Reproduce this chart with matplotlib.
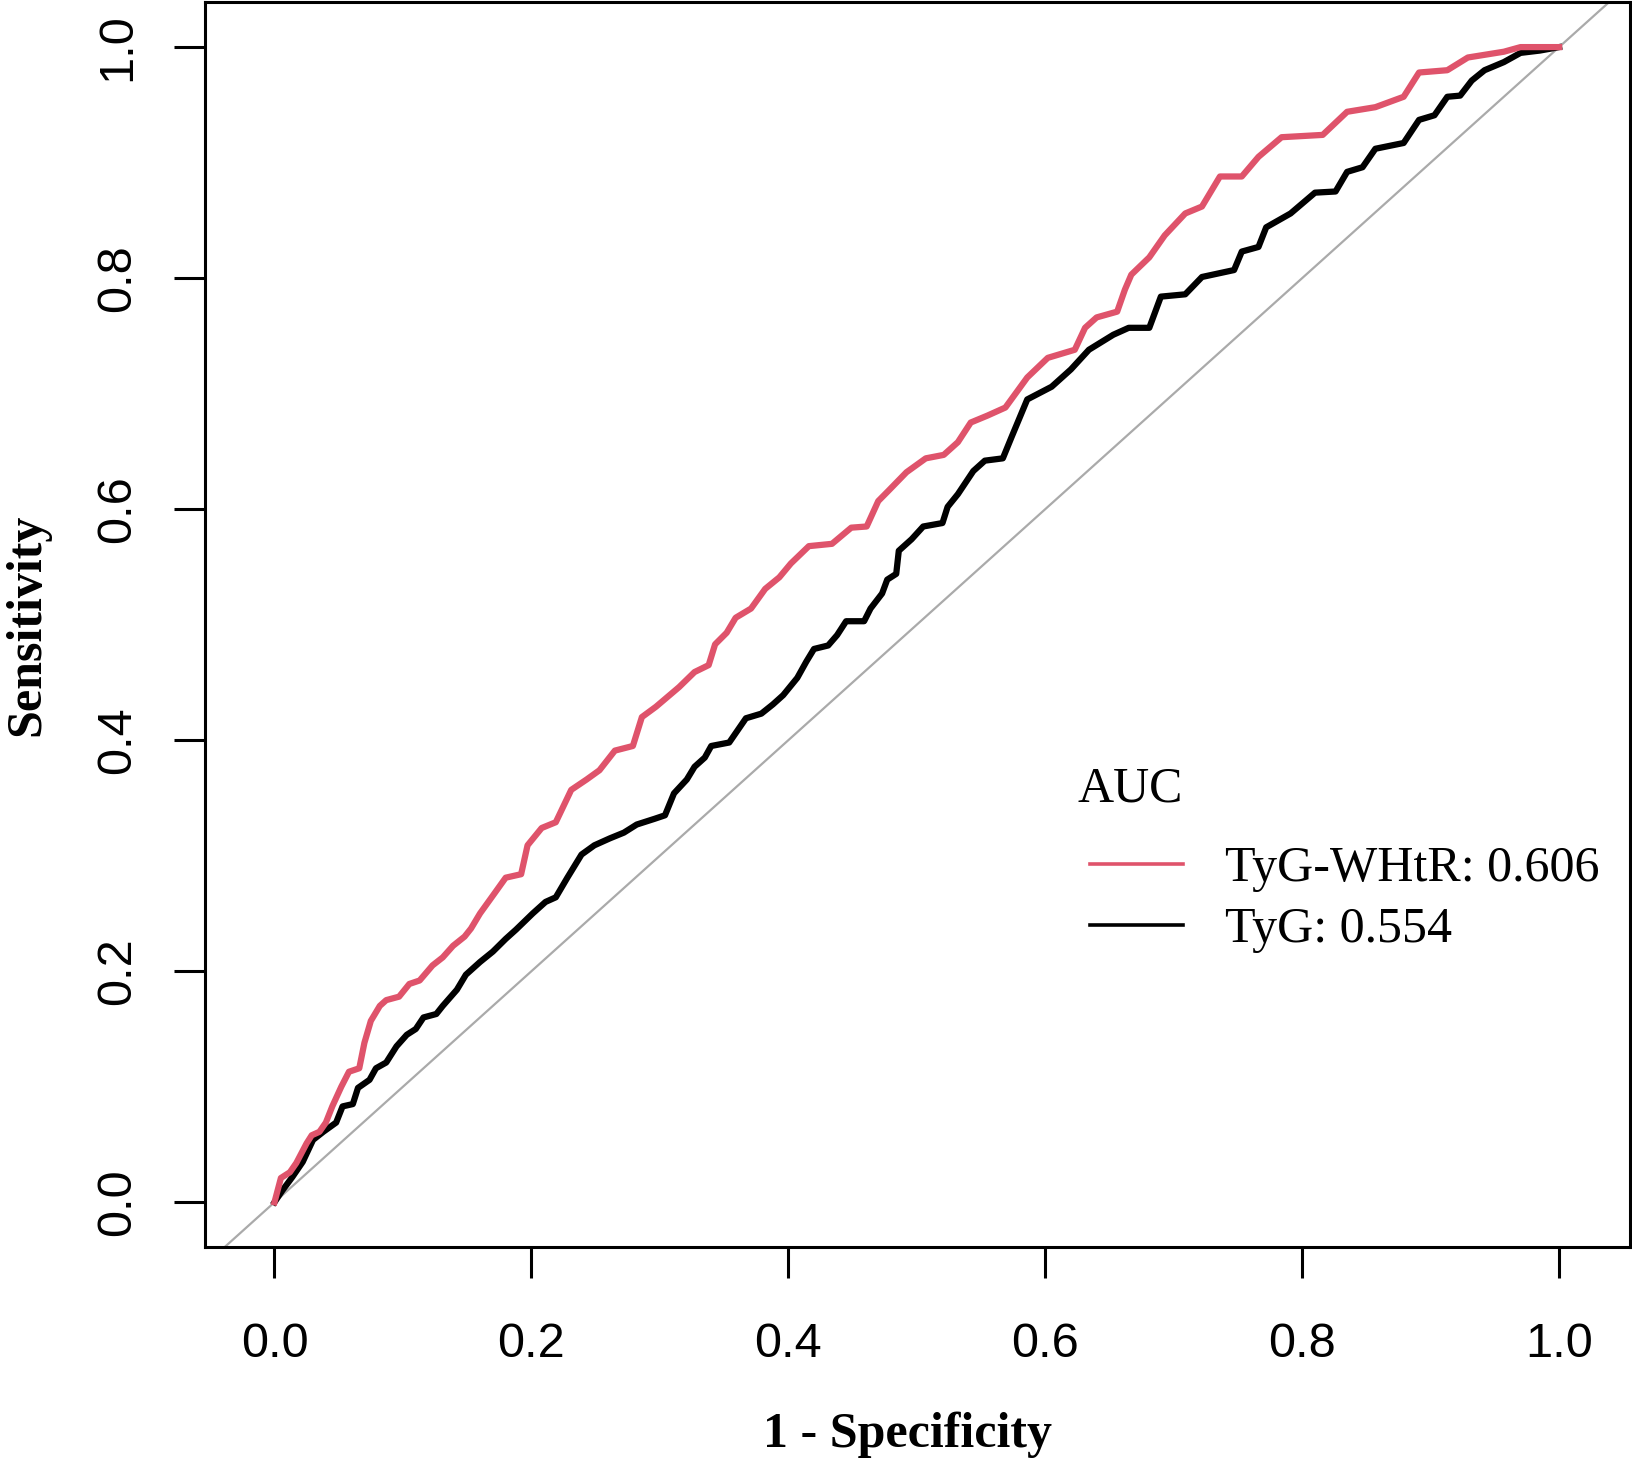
import matplotlib.pyplot as plt
from matplotlib.lines import Line2D

# ROC points (1 - specificity, sensitivity)
whtr_fpr = [0, 0.005, 0.012, 0.017, 0.025, 0.029, 0.035, 0.040, 0.045, 0.052, 0.058, 0.066,
            0.070, 0.075, 0.082, 0.087, 0.097, 0.105, 0.113, 0.123, 0.131, 0.139, 0.148, 0.153,
            0.160, 0.171, 0.180, 0.192, 0.197, 0.208, 0.219, 0.231, 0.243, 0.253, 0.265, 0.279,
            0.286, 0.297, 0.315, 0.327, 0.338, 0.343, 0.352, 0.359, 0.371, 0.382, 0.393, 0.402,
            0.416, 0.434, 0.449, 0.461, 0.470, 0.478, 0.492, 0.507, 0.521, 0.532, 0.542, 0.555,
            0.569, 0.586, 0.602, 0.623, 0.631, 0.640, 0.656, 0.662, 0.667, 0.681, 0.693, 0.709,
            0.722, 0.736, 0.753, 0.766, 0.784, 0.816, 0.835, 0.857, 0.879, 0.891, 0.913, 0.929,
            0.957, 0.970, 1.0]
whtr_tpr = [0, 0.021, 0.026, 0.034, 0.051, 0.058, 0.061, 0.069, 0.083, 0.100, 0.113, 0.116,
            0.138, 0.157, 0.170, 0.175, 0.178, 0.189, 0.192, 0.205, 0.212, 0.222, 0.230, 0.237,
            0.250, 0.267, 0.281, 0.284, 0.309, 0.324, 0.329, 0.357, 0.366, 0.374, 0.391, 0.395,
            0.420, 0.429, 0.446, 0.459, 0.465, 0.483, 0.493, 0.506, 0.514, 0.531, 0.541, 0.553,
            0.568, 0.570, 0.584, 0.585, 0.607, 0.616, 0.632, 0.644, 0.647, 0.658, 0.675, 0.681,
            0.688, 0.714, 0.731, 0.738, 0.757, 0.766, 0.771, 0.790, 0.803, 0.818, 0.837, 0.856,
            0.862, 0.888, 0.888, 0.905, 0.922, 0.924, 0.944, 0.948, 0.957, 0.978, 0.980, 0.991,
            0.996, 1.0, 1.0]

tyg_fpr = [0, 0.006, 0.014, 0.022, 0.030, 0.038, 0.048, 0.053, 0.061, 0.065, 0.074, 0.079,
           0.087, 0.095, 0.103, 0.110, 0.116, 0.126, 0.131, 0.142, 0.149, 0.160, 0.170, 0.180,
           0.188, 0.201, 0.211, 0.219, 0.228, 0.239, 0.249, 0.261, 0.272, 0.282, 0.296, 0.304,
           0.311, 0.321, 0.327, 0.335, 0.340, 0.354, 0.367, 0.379, 0.388, 0.396, 0.407, 0.414,
           0.420, 0.431, 0.438, 0.445, 0.459, 0.464, 0.473, 0.477, 0.484, 0.486, 0.496, 0.505,
           0.520, 0.524, 0.532, 0.544, 0.553, 0.567, 0.574, 0.586, 0.605, 0.620, 0.634, 0.653,
           0.665, 0.681, 0.690, 0.709, 0.722, 0.747, 0.753, 0.766, 0.772, 0.791, 0.810, 0.826,
           0.835, 0.847, 0.857, 0.879, 0.891, 0.903, 0.913, 0.923, 0.932, 0.942, 0.957, 0.970,
           0.985, 1.0]
tyg_tpr = [0, 0.010, 0.022, 0.035, 0.054, 0.061, 0.069, 0.083, 0.085, 0.099, 0.106, 0.116,
           0.121, 0.135, 0.145, 0.150, 0.160, 0.163, 0.170, 0.184, 0.197, 0.208, 0.217, 0.228,
           0.236, 0.250, 0.260, 0.264, 0.281, 0.301, 0.309, 0.315, 0.320, 0.327, 0.332, 0.335,
           0.354, 0.366, 0.377, 0.385, 0.395, 0.398, 0.419, 0.423, 0.431, 0.439, 0.454, 0.468,
           0.479, 0.482, 0.491, 0.503, 0.503, 0.514, 0.527, 0.539, 0.544, 0.564, 0.574, 0.585,
           0.588, 0.602, 0.613, 0.633, 0.642, 0.644, 0.663, 0.695, 0.706, 0.721, 0.738, 0.751,
           0.757, 0.757, 0.784, 0.786, 0.801, 0.807, 0.823, 0.827, 0.844, 0.856, 0.874, 0.875,
           0.892, 0.896, 0.912, 0.917, 0.937, 0.941, 0.957, 0.958, 0.971, 0.980, 0.987, 0.995,
           0.997, 1.0]

labels = ["TyG-WHtR: 0.606", "TyG: 0.554"]
colors = ["#DF536B", "black"]
ticks = [0.0, 0.2, 0.4, 0.6, 0.8, 1.0]
tick_labels = ["0.0", "0.2", "0.4", "0.6", "0.8", "1.0"]

fig = plt.figure(figsize=(16.33, 14.64), dpi=100)
ax = fig.add_axes([0.1256, 0.148, 0.8724, 0.8506])

ax.axline((0, 0), (1, 1), color="#AAAAAA", lw=1.6, zorder=1)
ax.plot(tyg_fpr, tyg_tpr, color=colors[1], lw=4.5, zorder=2)
ax.plot(whtr_fpr, whtr_tpr, color=colors[0], lw=4.5, zorder=3)

ax.set_xlim(-0.054, 1.055)
ax.set_ylim(-0.039, 1.039)

ax.set_xticks(ticks)
ax.set_xticklabels(tick_labels, fontfamily="Liberation Sans", fontsize=35)
ax.set_yticks(ticks)
ax.set_yticklabels(tick_labels, fontfamily="Liberation Sans", fontsize=35,
                   rotation=90, va="center")
ax.tick_params(axis="both", length=22, width=2.2)
ax.tick_params(axis="x", pad=32)
ax.tick_params(axis="y", pad=25)
for s in ax.spines.values():
    s.set_linewidth(2.2)

ax.set_xlabel("1 - Specificity", fontfamily="Liberation Serif", fontweight="bold",
              fontsize=36, va="center")
ax.xaxis.set_label_coords(0.4927, -0.1505)
ax.set_ylabel("Sensitivity", fontfamily="Liberation Serif", fontweight="bold",
              fontsize=36, va="center")
ax.yaxis.set_label_coords(-0.125, 0.5)

# legend: title drawn as text, entries via legend
ax.text(0.6126, 0.358, "AUC", transform=ax.transAxes, fontfamily="Liberation Serif",
        fontsize=36, va="baseline", ha="left")
handles = [Line2D([], [], color=c, lw=2.6) for c in colors]
ax.legend(handles, labels, loc="upper left", bbox_to_anchor=(0.6213, 0.3226),
          frameon=False, borderpad=0, borderaxespad=0, handlelength=1.85,
          handletextpad=0.85, labelspacing=0.29,
          prop={"family": "Liberation Serif", "size": 36})

fig.savefig("out.png", dpi=100)
